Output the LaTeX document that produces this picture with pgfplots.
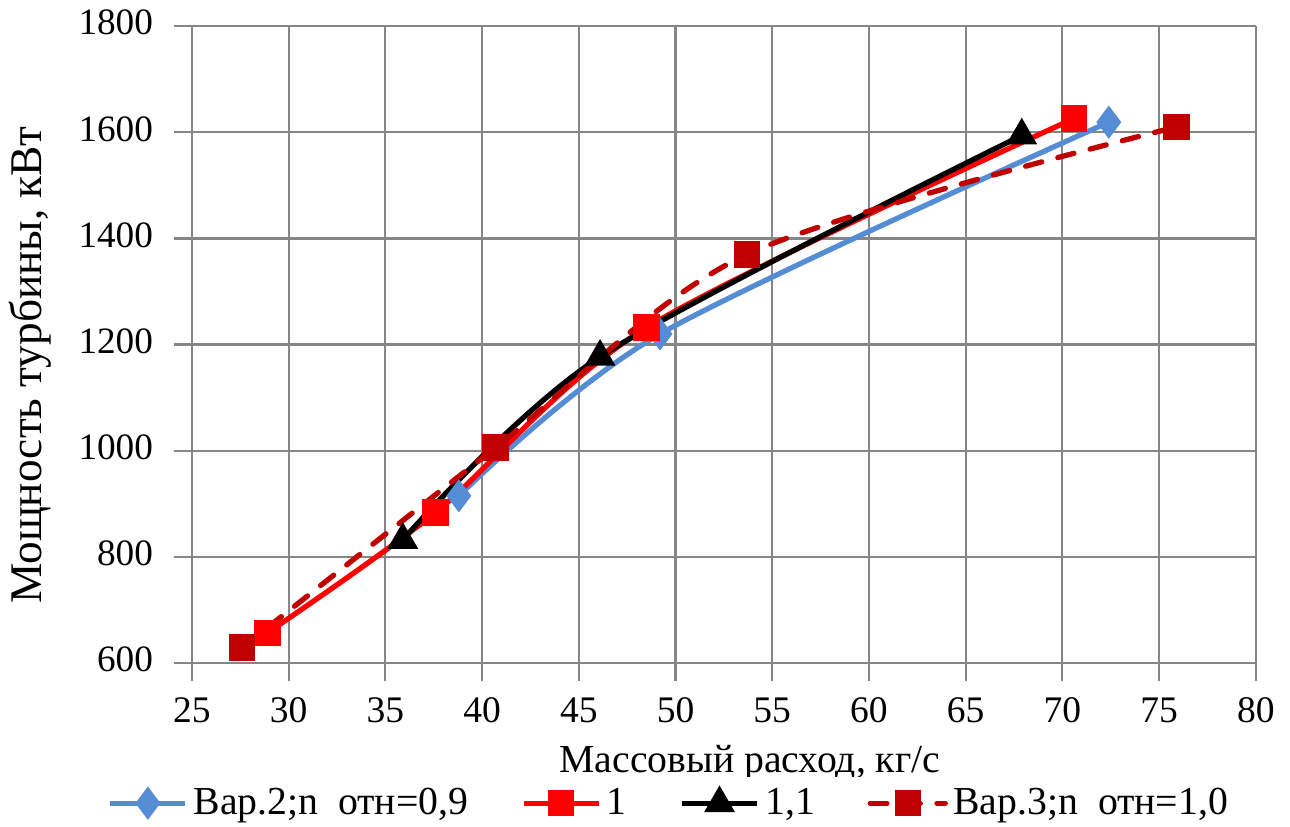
\documentclass[border=0pt]{standalone}
\usepackage{pgfplots}
\pgfplotsset{compat=1.18}
\usepackage{fontspec}
\setmainfont{Liberation Serif}
\definecolor{cblue}{RGB}{84,141,212}
\definecolor{cred}{RGB}{255,0,0}
\definecolor{cdred}{RGB}{192,0,0}
\definecolor{cgrid}{RGB}{134,134,134}
\begin{document}
\begin{tikzpicture}
\begin{axis}[
  scale only axis,
  width=383pt, height=229.3pt,
  xmin=25, xmax=80, ymin=600, ymax=1800,
  xtick={25,30,...,80}, ytick={600,800,...,1800},
  grid=major,
  grid style={cgrid, line width=0.8pt},
  axis line style={cgrid, line width=0.8pt},
  axis x line*=bottom, axis y line*=left,
  tick style={cgrid, line width=0.8pt},
  tick align=outside,
  major tick length=6.5pt,
  /pgf/number format/assume math mode=true,
  /pgf/number format/1000 sep={},
  xticklabel style={font=\fontsize{13.5}{15}\selectfont, yshift=-2.4pt},
  yticklabel style={font=\fontsize{13.4}{15}\selectfont, xshift=-4pt, yshift=1.2pt},
  xlabel={Массовый расход, кг/с},
  ylabel={Мощность турбины, кВт},
  every axis x label/.style={at={(axis description cs:0.5244,-0.157)}, anchor=center, font=\fontsize{14.3}{16}\selectfont},
  every axis y label/.style={at={(axis description cs:-0.1522,0.468)}, anchor=center, rotate=90, font=\fontsize{16.3}{18}\selectfont},
  legend style={
    at={(axis description cs:0.45,-0.22)}, anchor=center,
    legend columns=4, draw=none,
    font=\fontsize{14.3}{16}\selectfont,
    /tikz/every even column/.append style={column sep=17pt},
    nodes={inner sep=2pt},
  },
  legend image code/.code={
    \draw[#1] (0pt,0pt) -- (27pt,0pt);
    \draw[#1, solid] plot coordinates {(13.5pt,0pt)};
  },
]
\addplot[cblue, line width=1.9pt, smooth, mark=diamond*, mark size=4.4pt, mark options={solid}]
  coordinates {(38.8,915) (49.2,1220) (72.4,1619)};
\addlegendentry{Вар.2;n\ \ отн=0,9}
\addplot[cred, line width=1.9pt, smooth, mark=square*, mark size=3.8pt, mark options={solid}]
  coordinates {(28.9,657) (37.6,884) (48.5,1232) (70.6,1626)};
\addlegendentry{1}
\addplot[black, line width=1.9pt, smooth, mark=triangle*, mark size=4.5pt, mark options={solid}]
  coordinates {(35.9,832) (46.1,1177) (67.9,1594)};
\addlegendentry{1,1}
\addplot[cdred, line width=1.9pt, smooth, dash pattern=on 6pt off 6pt, line cap=round, mark=square*, mark size=3.8pt, mark options={solid}]
  coordinates {(27.6,629) (40.7,1006) (53.7,1370) (75.9,1610)};
\addlegendentry{Вар.3;n\ \ отн=1,0}
\end{axis}
\pgfresetboundingbox
\path (current axis.south west) ++(-69.1pt,-59pt) rectangle ++(464.4pt,297.7pt);
\end{tikzpicture}
\end{document}
